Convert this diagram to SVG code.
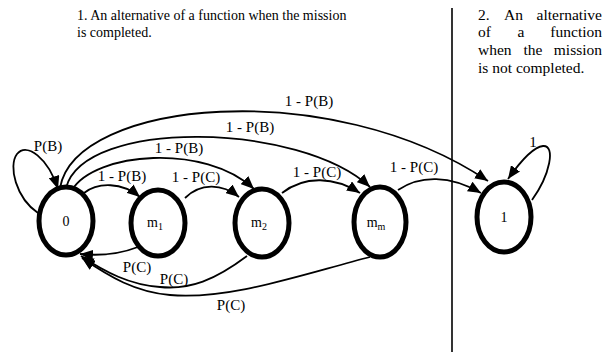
<svg xmlns="http://www.w3.org/2000/svg" width="614" height="356" viewBox="0 0 614 356">
<defs>
<marker id="arr" markerUnits="userSpaceOnUse" markerWidth="13" markerHeight="11" refX="13" refY="5.5" orient="auto">
<path d="M0,0 L13,5.5 L0,11 z" fill="#000"/>
</marker>
<style>
text{font-family:"Liberation Serif","Times New Roman",serif;fill:#000}
.t{font-size:14px}
.r{font-size:15.5px}
.lbl{font-size:15px;text-anchor:middle}
.nl{font-size:14px;text-anchor:middle}
.node ellipse{fill:#fff;stroke:#000;stroke-width:5}
.edge{fill:none;stroke:#000;stroke-width:1.8;marker-end:url(#arr)}
</style>
</defs>
<rect width="614" height="356" fill="#fff"/>
<line x1="452" y1="8" x2="452" y2="352" stroke="#000" stroke-width="1.6"/>
<text class="t" x="77" y="19.5">1. An alternative of a function when the mission</text>
<text class="t" x="77" y="37">is completed.</text>
<g id="note2">
<text class="r" x="478" y="19.5">2.</text>
<text class="r" x="504" y="19.5">An</text>
<text class="r" x="602" y="19.5" text-anchor="end">alternative</text>
<text class="r" x="478" y="37.2">of</text>
<text class="r" x="517.5" y="37.2">a</text>
<text class="r" x="602" y="37.2" text-anchor="end">function</text>
<text class="r" x="478" y="54.9">when</text>
<text class="r" x="523.5" y="54.9">the</text>
<text class="r" x="602" y="54.9" text-anchor="end">mission</text>
<text class="r" x="478" y="72.6">is not completed.</text>
</g>
<g id="connectors">
<path class="edge" d="M38,213 C16,198 8,166 17,154 C27,142 48,158 58,189"/>
<path class="edge" d="M60,188 C75,100 330,75 488,181"/>
<path class="edge" d="M66,188 C84,118 300,122 370,187"/>
<path class="edge" d="M72,190 C95,152 205,143 254,189"/>
<path class="edge" d="M84,193 C98,182 122,182 140,197"/>
<path class="edge" d="M185,198 C200,183 222,183 239,197"/>
<path class="edge" d="M282,193 C305,175 335,177 360,193"/>
<path class="edge" d="M398,190 C420,175 450,175 481,193"/>
<path class="edge" d="M532,200 C550,175 556,145 543,146 C533,147 520,162 508,179"/>
<path class="edge" d="M138,247 C120,254 100,256 80,254"/>
<path class="edge" d="M247,256 C215,280 190,290 160,287 C130,285 105,272 81,256"/>
<path class="edge" d="M370,257 C300,275 230,300 170,295 C135,292 110,277 82,258"/>
</g>
<g id="labels">
<text class="lbl" x="48" y="151">P(B)</text>
<text class="lbl" x="122" y="181">1 - P(B)</text>
<text class="lbl" x="196" y="182">1 - P(C)</text>
<text class="lbl" x="317" y="177">1 - P(C)</text>
<text class="lbl" x="414" y="172">1 - P(C)</text>
<text class="lbl" x="179" y="153">1 - P(B)</text>
<text class="lbl" x="250" y="132">1 - P(B)</text>
<text class="lbl" x="309" y="106">1 - P(B)</text>
<text class="lbl" x="533" y="147">1</text>
<text class="lbl" x="137" y="272">P(C)</text>
<text class="lbl" x="174" y="284">P(C)</text>
<text class="lbl" x="231" y="310">P(C)</text>
</g>
<g id="n0" class="node"><ellipse cx="66" cy="221" rx="27" ry="34"/><text class="nl" x="66" y="226">0</text></g>
<g id="nm1" class="node"><ellipse cx="158" cy="223" rx="27" ry="33"/><text class="nl" x="155" y="227">m<tspan font-size="10" dy="3">1</tspan></text></g>
<g id="nm2" class="node"><ellipse cx="262" cy="223" rx="27" ry="34"/><text class="nl" x="259" y="227">m<tspan font-size="10" dy="3">2</tspan></text></g>
<g id="nmm" class="node"><ellipse cx="380" cy="222" rx="26" ry="35"/><text class="nl" x="376" y="227">m<tspan font-size="10" dy="3">m</tspan></text></g>
<g id="n1" class="node"><ellipse cx="504" cy="217" rx="27" ry="35"/><text class="nl" x="504" y="222">1</text></g>
</svg>
